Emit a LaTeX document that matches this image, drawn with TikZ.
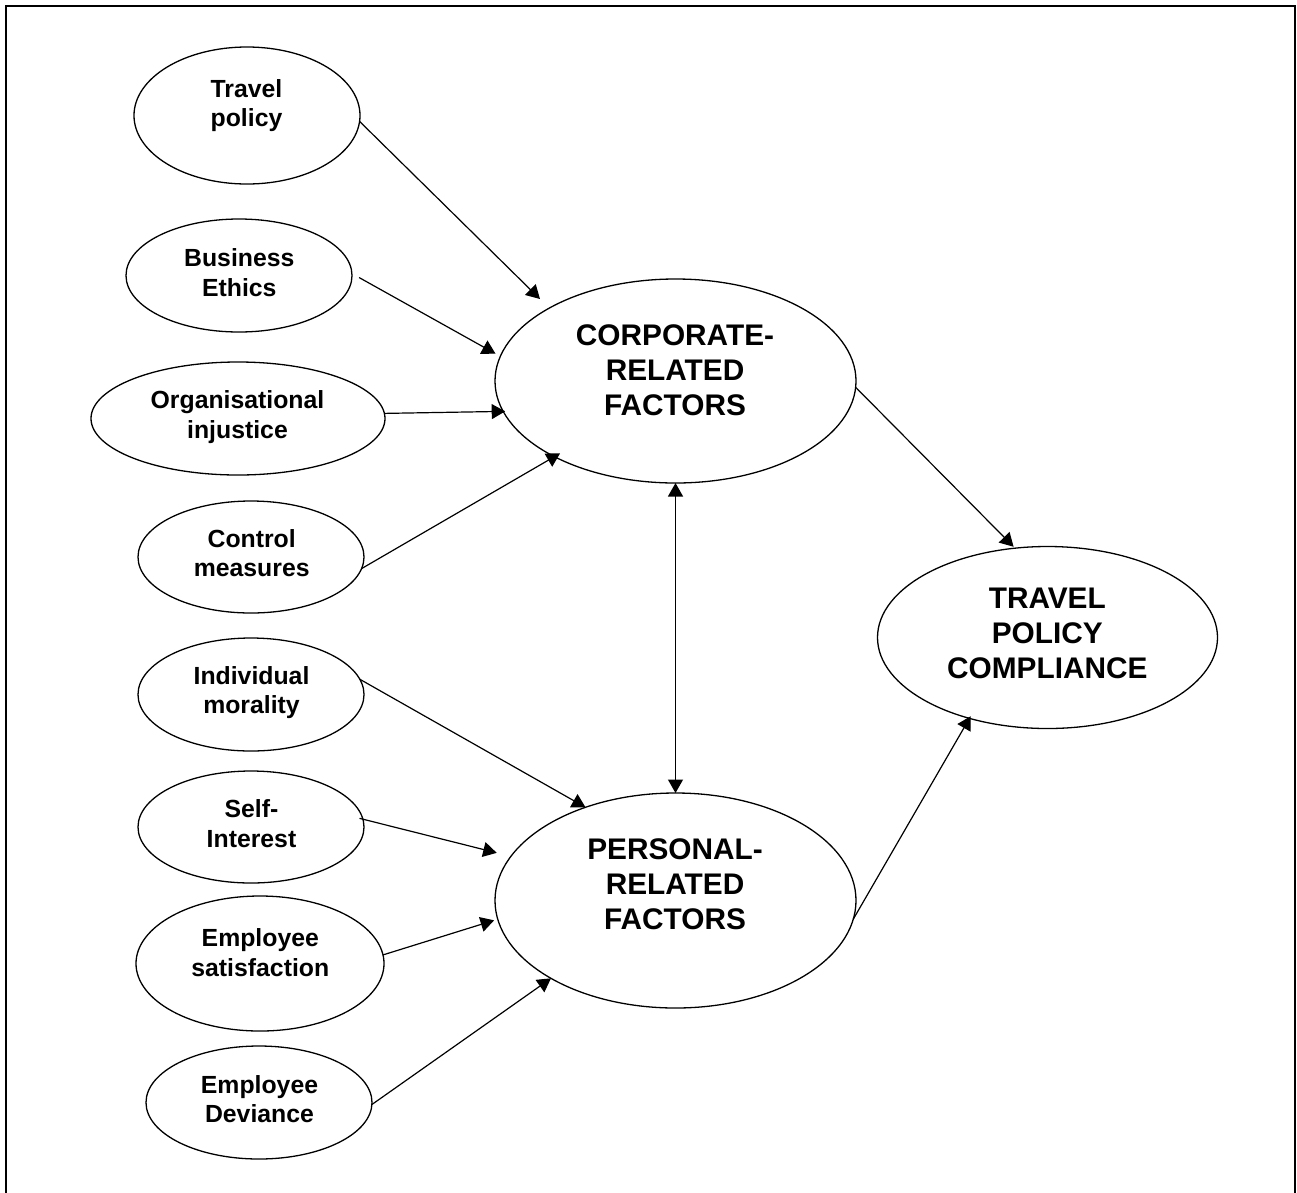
\documentclass[tikz,border=0pt]{standalone}
\usepackage{fontspec}
\setmainfont{Liberation Sans}
\usetikzlibrary{shapes.geometric,arrows.meta}
\newcommand\sst{\rule[-5.46pt]{0pt}{24.31pt}}
\newcommand\bst{\rule[-6.56pt]{0pt}{29.21pt}}
\begin{document}
\begin{tikzpicture}[x=1pt,y=-1pt,
  ell/.style={draw, ellipse, line width=1.3pt, inner sep=0pt, outer sep=0pt},
  small/.style={font=\fontsize{24.8}{29.75}\selectfont\bfseries, align=center, inner sep=0pt},
  big/.style={font=\fontsize{29.8}{35}\selectfont\bfseries, align=center, inner sep=0pt},
  arr/.style={line width=1.2pt, -{Triangle[length=13.5pt,width=15pt]}},
  arrtwo/.style={line width=1.2pt, {Triangle[length=13.5pt,width=15pt]}-{Triangle[length=13.5pt,width=15pt]}}]
\useasboundingbox (0,0) rectangle (1297,1192);
\draw[line width=2pt] (6,1195) -- (6,6) -- (1295,6) -- (1295,1195);
% ellipses
\node[ell, minimum width=226pt, minimum height=137pt] (tp) at (247,115.5) {};
\node[ell, minimum width=226pt, minimum height=113pt] (be) at (239,275.5) {};
\node[ell, minimum width=294pt, minimum height=113pt] (oi) at (238,418.5) {};
\node[ell, minimum width=226pt, minimum height=112pt] (cm) at (251,557) {};
\node[ell, minimum width=226pt, minimum height=113pt] (im) at (251,694.5) {};
\node[ell, minimum width=226pt, minimum height=112pt] (si) at (251,827) {};
\node[ell, minimum width=248pt, minimum height=135pt] (es) at (260,963.5) {};
\node[ell, minimum width=226pt, minimum height=113pt] (ed) at (259,1102.5) {};
\node[ell, minimum width=361pt, minimum height=204pt] (cp) at (675.5,381) {};
\node[ell, minimum width=361pt, minimum height=215pt] (pp) at (675.5,900.5) {};
\node[ell, minimum width=340pt, minimum height=182pt] (tc) at (1047.5,637.5) {};
% labels
\node[small] (tpt) at (246.5,105.3) {\sst Travel\\\sst policy};
\node[small] (bet) at (239.3,274.8) {\sst Business\\\sst Ethics};
\node[small] (oit) at (237.5,416.8) {\sst Organisational\\\sst injustice};
\node[small] (cmt) at (251.7,555.3) {\sst Control\\\sst measures};
\node[small] (imt) at (251.5,692.3) {\sst Individual\\\sst morality};
\node[small] (sit) at (251.5,825.6) {\sst Self-\\\sst Interest};
\node[small] (est) at (260.3,954.8) {\sst Employee\\\sst satisfaction};
\node[small] (edt) at (259.5,1101.2) {\sst Employee\\\sst Deviance};
\node[big] (cpt) at (675,372) {\bst CORPORATE-\\\bst RELATED\\\bst FACTORS};
\node[big] (ppt) at (675,886.6) {\bst PERSONAL-\\\bst RELATED\\\bst FACTORS};
\node[big] (tct) at (1047.3,635.3) {\bst TRAVEL\\\bst POLICY\\\bst COMPLIANCE};
% connectors
\draw[arr, shorten >=13pt] (tp.-3) -- (cp.150.3);
\draw[arr, shorten <=8.2pt, shorten >=5.5pt] (be.1.3) -- (cp.172.5);
\draw[arr, shorten >=-2pt] (oi.2.2) -- (cp.190.6);
\draw[arr, shorten >=-6.5pt] (cm.-6.2) -- (cp.212.65);
\draw[arr, shorten >=2pt] (cp.-2.9) -- (tc.110.1);
\draw[arrtwo] (cp.south) -- (pp.north);
\draw[arr] (im.8.1) -- (pp.134.4);
\draw[arr, shorten <=-3.5pt, shorten >=14.6pt] (si.4.2) -- (pp.165.9);
\draw[arr, shorten >=3.8pt] (es.4.4) -- (pp.186.9);
\draw[arr] (ed.-1.3) -- (pp.212.6);
\draw[arr, shorten >=-2.5pt] (pp.-6) -- (tc.226.9);
\end{tikzpicture}
\end{document}
